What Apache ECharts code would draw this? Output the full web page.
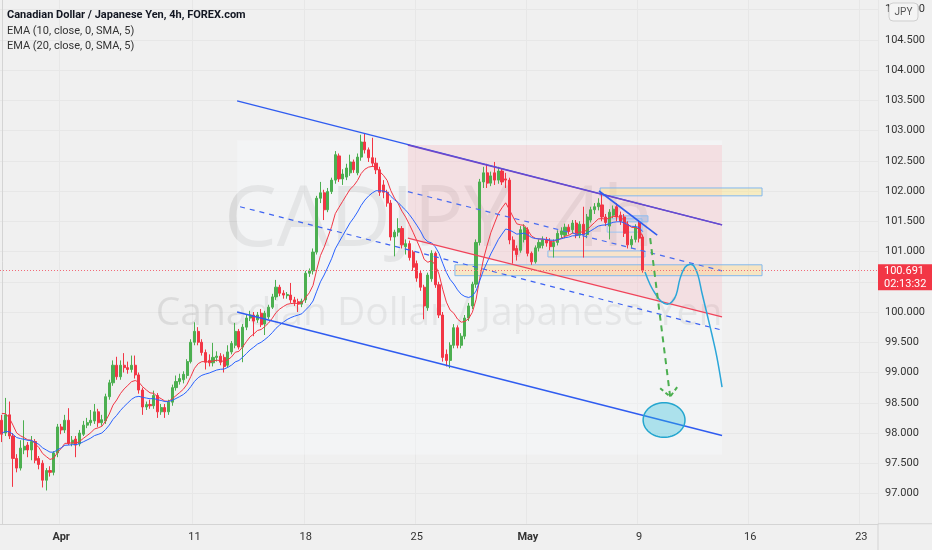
<!DOCTYPE html>
<html>
<head>
<meta charset="utf-8">
<title>CADJPY, 4h</title>
<script src="https://cdn.jsdelivr.net/npm/echarts@6.0.0/dist/echarts.min.js"></script>
<style>
  html, body { margin: 0; padding: 0; background: #f0f0f0; }
  #chart { width: 932px; height: 550px; }
</style>
</head>
<body>
<div id="chart"></div>
<script>
// ---------------------- BEGIN DATA ----------------------
// one 4h bar each : [open, close, low, high], first bar Mar 29 08:00
var candles = [
  [98.21, 97.98, 97.85, 98.30], [98.00, 98.30, 97.95, 98.58], [98.30, 97.95, 97.90, 98.52],
  [97.95, 97.58, 97.11, 98.00], [97.58, 97.42, 97.35, 97.65], [97.42, 97.75, 97.38, 97.88],
  [97.72, 97.78, 97.65, 98.21], [97.80, 97.72, 97.60, 97.85], [97.72, 97.86, 97.55, 97.95],
  [97.86, 97.55, 97.50, 97.90], [97.58, 97.48, 97.40, 97.62], [97.50, 97.22, 97.10, 97.55],
  [97.22, 97.38, 97.05, 97.42], [97.38, 97.35, 97.28, 97.45], [97.35, 97.67, 97.30, 97.70],
  [97.67, 98.10, 97.60, 98.15], [98.10, 98.05, 97.98, 98.15], [98.05, 98.21, 98.00, 98.30],
  [98.21, 97.83, 97.80, 98.41], [97.83, 97.88, 97.78, 97.95], [97.90, 97.80, 97.60, 97.95],
  [97.82, 98.00, 97.78, 98.05], [97.98, 98.13, 97.95, 98.20], [98.13, 98.17, 98.08, 98.25],
  [98.17, 98.21, 98.12, 98.38], [98.20, 98.35, 98.15, 98.48], [98.35, 98.17, 98.10, 98.40],
  [98.17, 98.22, 98.12, 98.30], [98.20, 98.60, 98.15, 98.65], [98.60, 98.83, 98.55, 98.88],
  [98.83, 99.12, 98.78, 99.20], [99.12, 98.93, 98.88, 99.26], [98.93, 99.12, 98.88, 99.20],
  [99.12, 99.08, 99.00, 99.32], [99.08, 99.05, 98.98, 99.18], [99.05, 99.12, 99.00, 99.28],
  [99.12, 98.96, 98.90, 99.28], [98.96, 98.71, 98.65, 99.00], [98.71, 98.43, 98.30, 98.75],
  [98.43, 98.47, 98.38, 98.52], [98.47, 98.45, 98.40, 98.55], [98.45, 98.62, 98.40, 98.70],
  [98.62, 98.35, 98.25, 98.66], [98.35, 98.42, 98.30, 98.48], [98.42, 98.35, 98.25, 98.48],
  [98.35, 98.51, 98.30, 98.55], [98.51, 98.75, 98.45, 98.80], [98.75, 98.85, 98.70, 98.95],
  [98.85, 98.90, 98.80, 98.98], [98.88, 98.97, 98.82, 99.02], [98.95, 99.18, 98.90, 99.22],
  [99.18, 99.50, 99.15, 99.55], [99.50, 99.68, 99.45, 99.83], [99.68, 99.50, 99.45, 99.75],
  [99.50, 99.33, 99.28, 99.55], [99.33, 99.17, 99.05, 99.38], [99.20, 99.16, 99.10, 99.30],
  [99.16, 99.25, 99.10, 99.49], [99.25, 99.27, 99.18, 99.35], [99.27, 99.17, 99.12, 99.32],
  [99.25, 99.10, 99.00, 99.30], [99.12, 99.34, 99.08, 99.45], [99.34, 99.48, 99.30, 99.52],
  [99.45, 99.68, 99.40, 99.82], [99.68, 99.42, 99.38, 99.72], [99.42, 99.75, 99.17, 99.80],
  [99.75, 99.90, 99.70, 99.95], [99.90, 99.95, 99.85, 100.02], [99.95, 99.85, 99.60, 100.00],
  [99.87, 99.95, 99.82, 100.00], [99.98, 99.79, 99.75, 100.05], [99.80, 99.98, 99.62, 100.02],
  [99.92, 100.08, 99.88, 100.12], [100.08, 100.25, 100.05, 100.30], [100.25, 100.41, 100.20, 100.53],
  [100.41, 100.31, 100.26, 100.45], [100.31, 100.28, 100.22, 100.36], [100.27, 100.29, 100.22, 100.33],
  [100.28, 100.20, 100.15, 100.48], [100.20, 100.16, 100.10, 100.25], [100.17, 100.13, 100.00, 100.22],
  [100.13, 100.18, 100.08, 100.22], [100.20, 100.64, 100.15, 100.68], [100.64, 100.68, 100.58, 100.72],
  [100.68, 100.99, 100.62, 101.05], [100.99, 101.88, 100.95, 101.92], [101.88, 101.97, 101.80, 102.15],
  [101.97, 101.69, 101.52, 102.02], [101.69, 101.99, 101.65, 102.05], [101.99, 102.18, 101.95, 102.22],
  [102.18, 102.60, 102.12, 102.66], [102.58, 102.20, 102.15, 102.62], [102.20, 102.28, 102.10, 102.36],
  [102.23, 102.38, 102.18, 102.45], [102.30, 102.48, 102.25, 102.60], [102.48, 102.35, 102.30, 102.52],
  [102.30, 102.56, 102.26, 102.62], [102.56, 102.81, 102.50, 102.93], [102.81, 102.68, 102.62, 102.95],
  [102.68, 102.55, 102.48, 102.72], [102.55, 102.46, 102.40, 102.88], [102.46, 102.35, 102.28, 102.55],
  [102.35, 101.98, 101.92, 102.40], [102.10, 101.98, 101.88, 102.18], [101.98, 101.80, 101.74, 102.02],
  [101.80, 101.24, 101.18, 101.85], [101.24, 101.32, 100.92, 101.36], [101.32, 101.38, 101.25, 101.55],
  [101.38, 101.11, 101.05, 101.42], [101.08, 101.13, 100.95, 101.20], [101.13, 100.90, 100.85, 101.18],
  [100.99, 100.74, 100.68, 101.02], [100.80, 100.56, 100.50, 100.85], [100.64, 100.41, 100.35, 100.68],
  [100.41, 100.10, 99.88, 100.45], [100.07, 100.61, 100.02, 100.65], [100.55, 100.97, 100.50, 101.02],
  [100.97, 100.45, 100.40, 101.00], [100.45, 99.95, 99.90, 100.50], [99.95, 99.25, 99.18, 100.00],
  [99.30, 99.20, 99.10, 99.38], [99.20, 99.45, 99.07, 99.50], [99.45, 99.74, 99.40, 99.80],
  [99.74, 99.45, 99.40, 99.78], [99.45, 99.60, 99.40, 99.65], [99.60, 99.90, 99.55, 99.95],
  [99.90, 100.10, 99.85, 100.15], [100.10, 100.46, 100.05, 100.50], [100.46, 101.15, 100.40, 101.20],
  [101.15, 102.15, 101.10, 102.20], [102.15, 102.30, 102.05, 102.40], [102.30, 102.13, 102.05, 102.45],
  [102.13, 102.25, 102.08, 102.32], [102.30, 102.18, 102.10, 102.48], [102.18, 102.33, 102.12, 102.40],
  [102.33, 102.15, 102.10, 102.38], [102.20, 102.18, 102.05, 102.30], [102.18, 101.19, 101.12, 102.22],
  [101.19, 101.02, 100.80, 101.25], [101.05, 100.95, 100.85, 101.10], [101.02, 101.36, 100.98, 101.42],
  [101.20, 101.40, 101.15, 101.45], [101.36, 100.97, 100.92, 101.40], [100.97, 100.83, 100.78, 101.00],
  [100.83, 101.06, 100.80, 101.10], [101.06, 101.15, 101.00, 101.20], [101.10, 101.19, 101.05, 101.25],
  [101.19, 101.14, 101.08, 101.24], [101.17, 101.08, 101.02, 101.22], [101.08, 101.15, 100.90, 101.20],
  [101.15, 101.30, 101.10, 101.35], [101.28, 101.34, 101.22, 101.40], [101.27, 101.40, 101.22, 101.46],
  [101.40, 101.33, 101.28, 101.45], [101.36, 101.47, 101.30, 101.52], [101.47, 101.27, 101.22, 101.52],
  [101.27, 101.45, 101.22, 101.50], [101.45, 101.28, 100.90, 101.74], [101.28, 101.57, 101.22, 101.62],
  [101.52, 101.69, 101.48, 101.74], [101.69, 101.74, 101.62, 101.80], [101.74, 101.80, 101.68, 101.88],
  [101.77, 101.57, 101.50, 101.98], [101.57, 101.48, 101.42, 101.62], [101.42, 101.65, 101.20, 101.70],
  [101.60, 101.70, 101.55, 101.76], [101.74, 101.57, 101.50, 101.80], [101.60, 101.50, 101.44, 101.66],
  [101.57, 101.30, 101.24, 101.62], [101.45, 101.11, 101.05, 101.50], [101.11, 101.20, 101.05, 101.26],
  [101.20, 101.40, 101.15, 101.45], [101.47, 101.22, 101.15, 101.52], [101.24, 100.69, 100.65, 101.28]
];
var ema10Start = 98.40;   // EMA values carried in from before the first visible bar
var ema20Start = 98.00;
var lastPrice = 100.691;
var lastCountdown = '02:13:32';
var firstBarTime = Date.UTC(2022, 2, 29, 8);
var futureBars = 63;
var priceMin = 96.5;
var priceMax = 105.5;
var priceStep = 0.5;
var monthNames = ['Jan', 'Feb', 'Mar', 'Apr', 'May', 'Jun', 'Jul', 'Aug', 'Sep', 'Oct', 'Nov', 'Dec'];

// drawings : anchor points as [bar, price]
var channelTop    = [[63.5, 103.49], [194.4, 101.44]];
var channelMid    = [[64.3, 101.74], [194.4, 99.70]];
var channelBottom = [[63.5, 100.00], [194.4, 97.96]];
var channelBox    = [[63.5, 102.84], [194.4, 97.64]];
var pinkTop       = [[109.6, 102.76], [194.4, 101.44]];
var pinkMid       = [[109.6, 101.99], [194.4, 100.68]];
var pinkBottom    = [[109.6, 101.22], [194.4, 99.92]];
var zoneUpper     = [[161.5, 102.05], [205.2, 101.92]];
var zoneLower     = [[122.3, 100.78], [205.2, 100.60]];
var rangeBand     = [[147.4, 101.01], [173.6, 100.91]];
var rangeBox      = [[163.4, 101.54], [172.8, 101.32]];
var rangeTop      = [[167.4, 101.59], [174.4, 101.49]];
var trendShort    = [[161.2, 102.00], [176.9, 101.27]];
var arrowPath     = [[175.0, 101.22], [180.4, 98.60]];
var arrowHead     = [[177.7, 98.74], [180.4, 98.60], [182.3, 98.76]];
var projection    = [
  [173.6, 100.66], [175.0, 100.45], [176.3, 100.31], [177.9, 100.18], [179.6, 100.13],
  [180.9, 100.17], [182.0, 100.28], [183.1, 100.56], [184.4, 100.74], [185.8, 100.79],
  [186.8, 100.76], [187.9, 100.61], [189.0, 100.31], [190.3, 99.98], [191.7, 99.62],
  [193.0, 99.26], [194.4, 98.76]
];
var targetZone    = [[173.1, 98.50], [184.4, 97.93]];
// ----------------------- END DATA -----------------------

var chartApp = (function () {
  var
    chart, barTimes = [], tickText = {}, closes,
    buildTimes, buildTicks, calcEma, fillLayer, lineLayer, ellipsePoints, initModule
  ;

  // ---------------------- BEGIN UTILITY METHODS ----------------------
  buildTimes = function () {
    var i, t = firstBarTime;
    for (i = 0; i < candles.length + futureBars; i++) {
      barTimes.push(t);
      t += 4 * 3600 * 1000;
      if (new Date(t).getUTCDay() === 6) { t += 2 * 24 * 3600 * 1000; }
    }
  };

  // label Mondays and the first trading day of a month, like the source
  buildTicks = function () {
    var lastTick = -99, prevMonth = new Date(barTimes[0]).getUTCMonth();
    barTimes.forEach(function (ms, idx) {
      var d = new Date(ms), txt = null;
      if (d.getUTCHours() !== 0) { return; }
      if (d.getUTCMonth() !== prevMonth) {
        txt = '{m|' + monthNames[d.getUTCMonth()] + '}';
        prevMonth = d.getUTCMonth();
      } else if (d.getUTCDay() === 1 && idx - lastTick > 12) {
        txt = String(d.getUTCDate());
      }
      if (txt) { tickText[idx] = txt; lastTick = idx; }
    });
  };

  calcEma = function (startValue, period) {
    var k = 2 / (period + 1), prev = startValue;
    return closes.map(function (c) {
      prev = prev + k * (c - prev);
      return +prev.toFixed(4);
    });
  };

  ellipsePoints = function (p0, p1) {
    var cx = (p0[0] + p1[0]) / 2, cy = (p0[1] + p1[1]) / 2,
      rx = Math.abs(p1[0] - p0[0]) / 2, ry = Math.abs(p1[1] - p0[1]) / 2,
      pts = [], a;
    for (a = 0; a < 64; a++) {
      pts.push([cx + rx * Math.cos(a / 64 * Math.PI * 2), cy + ry * Math.sin(a / 64 * Math.PI * 2)]);
    }
    return pts;
  };
  // ----------------------- END UTILITY METHODS -----------------------

  // ------------------------ BEGIN DRAW LAYERS ------------------------
  // filled shapes, under the candles
  fillLayer = function (params, api) {
    var c = function (q) { return api.coord(q); },
      rect = function (box, fill, stroke) {
        var a = c(box[0]), b = c(box[1]);
        return {
          type : 'rect', silent : true,
          shape : { x : a[0], y : a[1], width : b[0] - a[0], height : b[1] - a[1] },
          style : { fill : fill, stroke : stroke || null, lineWidth : 1 }
        };
      };
    return {
      type : 'group',
      children : [
        rect(channelBox, 'rgba(250,251,255,0.32)'),
        {
          type : 'polygon', silent : true,
          shape : { points : [
            c([pinkTop[0][0], pinkTop[0][1]]), c([pinkTop[1][0], pinkTop[0][1]]),
            c(pinkBottom[1]), c(pinkBottom[0])
          ] },
          style : { fill : 'rgba(242,54,69,0.11)' }
        },
        rect(zoneUpper, 'rgba(255,232,130,0.42)', '#82b8ee'),
        rect(zoneLower, 'rgba(255,210,120,0.38)', '#82b8ee'),
        rect(rangeBand, 'rgba(255,236,170,0.40)', '#8cbcf0'),
        rect(rangeBox, null, '#9cc4f2'),
        rect(rangeTop, 'rgba(120,170,240,0.30)', '#8cbcf0')
      ]
    };
  };

  // lines and marks drawn over the candles
  lineLayer = function (params, api) {
    var c = function (q) { return api.coord(q); },
      line = function (pts, color, width, dash, smooth) {
        return {
          type : 'polyline', silent : true,
          shape : { points : pts.map(c), smooth : smooth || 0 },
          style : { stroke : color, lineWidth : width, lineDash : dash || null, fill : null }
        };
      };
    return {
      type : 'group',
      children : [
        line(channelTop, '#2f5cf0', 1.5),
        line(channelBottom, '#2f5cf0', 1.5),
        line(channelMid, '#3d63f2', 1.2, [5, 5]),
        line(pinkTop, '#7047c9', 1.5),
        line(pinkBottom, '#f0445a', 1.2),
        line(pinkMid, '#4a6cf0', 1.2, [5, 5]),
        line(trendShort, '#2f5cf0', 1.6),
        {
          type : 'polygon', silent : true,
          shape : { points : ellipsePoints(c(targetZone[0]), c(targetZone[1])) },
          style : { fill : 'rgba(40,190,220,0.35)', stroke : '#25a6cf', lineWidth : 1.5 }
        },
        line(projection, '#2ba6d9', 1.5, null, 0.4),
        line(arrowPath, '#4caf50', 2, [6, 5]),
        line(arrowHead, '#4caf50', 2, [4, 3])
      ]
    };
  };
  // ------------------------- END DRAW LAYERS -------------------------

  // ----------------------- BEGIN PUBLIC METHODS ----------------------
  initModule = function (el) {
    var i, categories = [], showTick, lastY, yTop, axisFont = 'Roboto';

    buildTimes();
    buildTicks();
    closes = candles.map(function (c) { return c[1]; });
    for (i = 0; i < barTimes.length; i++) { categories.push(String(barTimes[i])); }
    showTick = function (idx) { return tickText[idx] !== undefined; };

    chart = echarts.init(el, null, { renderer : 'canvas' });
    chart.setOption({
      backgroundColor : '#f0f0f0',
      animation : false,
      grid : { left : 0, right : 54, top : -20.75, bottom : 26.25, outerBoundsMode : 'none', containLabel : false },
      xAxis : [
        {
          type : 'category', data : categories, boundaryGap : true,
          axisLine : { lineStyle : { color : '#d4d4d4' } },
          axisTick : { show : false },
          axisLabel : {
            interval : showTick, hideOverlap : false, margin : 8,
            color : '#333', fontSize : 11, fontFamily : axisFont,
            formatter : function (val, idx) { return tickText[idx] || ''; },
            rich : { m : { fontWeight : 'bold', fontSize : 11, color : '#333', fontFamily : axisFont } }
          },
          splitLine : { show : true, interval : showTick, lineStyle : { color : '#e7e7e7' } }
        },
        { type : 'value', show : false, min : -0.5, max : barTimes.length - 0.5 }
      ],
      yAxis : {
        type : 'value', position : 'right', min : priceMin, max : priceMax, interval : priceStep,
        axisLine : { show : true, lineStyle : { color : '#d4d4d4' } },
        axisTick : { show : false },
        axisLabel : {
          margin : 7, color : '#333', fontSize : 11, fontFamily : axisFont,
          showMinLabel : false,
          formatter : function (v) { return v.toFixed(3); }
        },
        splitLine : { lineStyle : { color : '#e7e7e7' } }
      },
      series : [
        {
          type : 'custom', name : 'fills', xAxisIndex : 1, yAxisIndex : 0, z : 1,
          data : [[0, 100]], renderItem : fillLayer, silent : true
        },
        {
          type : 'candlestick', name : 'CADJPY', z : 2, barWidth : 2.6,
          data : candles.map(function (c) { return [c[0], c[1], c[2], c[3]]; }),
          itemStyle : {
            color : '#4caf50', color0 : '#f23645',
            borderColor : '#4caf50', borderColor0 : '#f23645', borderWidth : 1
          },
          markLine : {
            silent : true, symbol : ['none', 'none'], label : { show : false },
            lineStyle : { color : '#f26a78', type : [1, 2], width : 1 },
            data : [{ yAxis : lastPrice }]
          }
        },
        {
          type : 'line', name : 'EMA 10', z : 3, data : calcEma(ema10Start, 10),
          showSymbol : false, symbol : 'none', silent : true,
          lineStyle : { color : '#f23645', width : 1 }
        },
        {
          type : 'line', name : 'EMA 20', z : 3, data : calcEma(ema20Start, 20),
          showSymbol : false, symbol : 'none', silent : true,
          lineStyle : { color : '#2962ff', width : 1 }
        },
        {
          type : 'custom', name : 'drawings', xAxisIndex : 1, yAxisIndex : 0, z : 4,
          data : [[0, 100]], renderItem : lineLayer, silent : true
        }
      ]
    });

    lastY = chart.convertToPixel({ yAxisIndex : 0 }, lastPrice);
    yTop = 523.75;

    chart.setOption({
      graphic : { elements : [
        // watermark
        {
          type : 'text', x : 439, y : 222, z : 0, silent : true,
          style : { text : 'CADJPY, 4h', font : '84px "Open Sans"', fill : 'rgba(0,0,0,0.09)',
            align : 'center', verticalAlign : 'middle' }
        },
        {
          type : 'text', x : 439, y : 314, z : 0, silent : true,
          style : { text : 'Canadian Dollar / Japanese Yen', font : '39px "Open Sans"', fill : 'rgba(0,0,0,0.085)',
            align : 'center', verticalAlign : 'middle' }
        },
        // legend
        {
          type : 'text', x : 7, y : 15, z : 10, silent : true,
          style : { text : 'Canadian Dollar / Japanese Yen, 4h, FOREX.com', font : 'bold 11px Roboto',
            fill : '#131722', verticalAlign : 'middle' }
        },
        {
          type : 'text', x : 7, y : 31, z : 10, silent : true,
          style : { text : 'EMA (10, close, 0, SMA, 5)', font : '11px Roboto', fill : '#333',
            verticalAlign : 'middle' }
        },
        {
          type : 'text', x : 7, y : 46, z : 10, silent : true,
          style : { text : 'EMA (20, close, 0, SMA, 5)', font : '11px Roboto', fill : '#333',
            verticalAlign : 'middle' }
        },
        // axis frame bits outside the grid
        {
          type : 'line', z : 10, silent : true,
          shape : { x1 : 878, y1 : yTop, x2 : 878, y2 : 550 }, style : { stroke : '#d4d4d4', lineWidth : 1 }
        },
        {
          type : 'line', z : 10, silent : true,
          shape : { x1 : 878, y1 : yTop, x2 : 932, y2 : yTop }, style : { stroke : '#d4d4d4', lineWidth : 1 }
        },
        // currency button
        {
          type : 'rect', z : 10, silent : true,
          shape : { x : 889, y : 3, width : 29, height : 18, r : 4 },
          style : { fill : '#f4f4f4', stroke : '#cfcfcf', lineWidth : 1 }
        },
        {
          type : 'text', x : 903.5, y : 12.5, z : 11, silent : true,
          style : { text : 'JPY', font : '10px Roboto', fill : '#555', align : 'center', verticalAlign : 'middle' }
        },
        // last price tag
        {
          type : 'rect', z : 10, silent : true,
          shape : { x : 878, y : lastY - 6, width : 54, height : 26 },
          style : { fill : '#f23645' }
        },
        {
          type : 'text', x : 884, y : lastY + 1, z : 11, silent : true,
          style : { text : lastPrice.toFixed(3), font : '11px Roboto', fill : '#fff', verticalAlign : 'middle' }
        },
        {
          type : 'text', x : 884, y : lastY + 14, z : 11, silent : true,
          style : { text : lastCountdown, font : '11px Roboto', fill : '#fff', verticalAlign : 'middle' }
        }
      ] }
    });
    return true;
  };
  // ------------------------ END PUBLIC METHODS -----------------------

  return { initModule : initModule };
}());

chartApp.initModule(document.getElementById('chart'));
</script>
</body>
</html>
